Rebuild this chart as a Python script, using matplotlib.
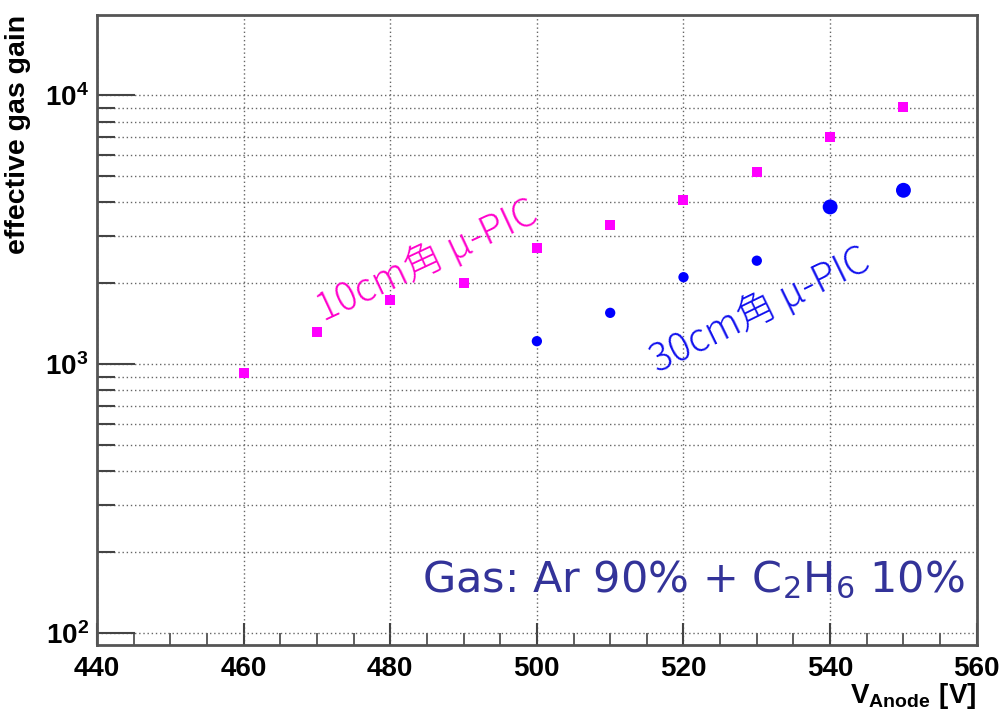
import numpy as np
import matplotlib
matplotlib.use('Agg')
import matplotlib.pyplot as plt
from matplotlib.ticker import FixedLocator, MultipleLocator, NullFormatter

# mathtext: bold ticks in Arial-like font, subscripts in DejaVu
plt.rcParams['mathtext.fontset'] = 'custom'
plt.rcParams['mathtext.bf'] = 'Liberation Sans:bold'
plt.rcParams['mathtext.rm'] = 'DejaVu Sans'
plt.rcParams['mathtext.it'] = 'DejaVu Sans:italic'

# Data
v_10cm = [460, 470, 480, 490, 500, 510, 520, 530, 540, 550]
gain_10cm = [930, 1315, 1730, 2010, 2710, 3310, 4100, 5200, 6990, 9030]

v_30cm = [500, 510, 520, 530, 540, 550]
gain_30cm = [1220, 1555, 2110, 2430, 3850, 4440]
size_30cm = [55, 55, 55, 55, 115, 115]

x_major = [440, 460, 480, 500, 520, 540, 560]
y_major = [100, 1000, 10000]
y_major_labels = [r'$\mathbf{10^{2}}$', r'$\mathbf{10^{3}}$', r'$\mathbf{10^{4}}$']

fig = plt.figure(figsize=(10.02, 7.11), dpi=100)
ax = fig.add_axes([0.0968, 0.0928, 0.878, 0.886])

ax.set_yscale('log')
ax.set_xlim(440, 560)
ax.set_ylim(90.5, 19900)

# grid
y_minor = [m * 10**e for e in (1, 2, 3, 4) for m in range(2, 10)]
ax.xaxis.set_major_locator(FixedLocator(x_major))
ax.xaxis.set_minor_locator(MultipleLocator(5))
ax.yaxis.set_major_locator(FixedLocator(y_major))
ax.yaxis.set_minor_locator(FixedLocator(y_minor))
ax.yaxis.set_minor_formatter(NullFormatter())
ax.set_yticklabels(y_major_labels)
ax.grid(True, which='major', axis='x', color='#666666', linestyle=(0, (1, 2)), linewidth=1.0)
ax.grid(True, which='both', axis='y', color='#666666', linestyle=(0, (1, 2)), linewidth=1.0)
ax.set_axisbelow(True)

ax.tick_params(axis='x', which='major', direction='in', length=16, width=1.5,
               color='#444444', labelsize=20, pad=8)
ax.tick_params(axis='x', which='minor', direction='in', length=9, width=1.2, color='#444444')
ax.tick_params(axis='y', which='major', direction='in', length=27, width=1.5,
               color='#444444', labelsize=20, pad=6)
ax.tick_params(axis='y', which='minor', direction='in', length=13, width=1.5, color='#444444')
for lab in ax.get_xticklabels():
    lab.set_fontfamily('Liberation Sans')
    lab.set_fontweight('bold')

for s in ax.spines.values():
    s.set_color('#555555')
    s.set_linewidth(2)

# data
ax.scatter(v_10cm, gain_10cm, marker='s', s=62, color='#ff00ff', zorder=3, linewidths=0)
ax.scatter(v_30cm, gain_30cm, marker='o', s=size_30cm, color='#0000ff', zorder=3, linewidths=0)

# labels
ax.set_ylabel('effective gas gain', fontsize=20.5, fontweight='bold',
              fontfamily='Liberation Sans', loc='top', labelpad=10)
ax.set_xlabel(r'$\mathbf{V_{Anode}}$ $\mathbf{[V]}$', fontsize=20, loc='right', labelpad=-1)

cjk = ['Noto Sans CJK JP', 'DejaVu Sans']
ax.text(485.0, 2420, '10cm角 μ-PIC', color='#ff00cc', fontsize=28, rotation=25,
        rotation_mode='anchor', ha='center', va='center', family=cjk, fontweight='light')
ax.text(530.5, 1590, '30cm角 μ-PIC', color='#1010ee', fontsize=28, rotation=26,
        rotation_mode='anchor', ha='center', va='center', family=cjk, fontweight='light')

ax.text(0.986, 0.103, r'Gas: Ar 90% + C$_2$H$_6$ 10%', transform=ax.transAxes,
        ha='right', va='center', fontsize=31, color='#333399', fontfamily='DejaVu Sans')

plt.savefig('out.png', dpi=100)
